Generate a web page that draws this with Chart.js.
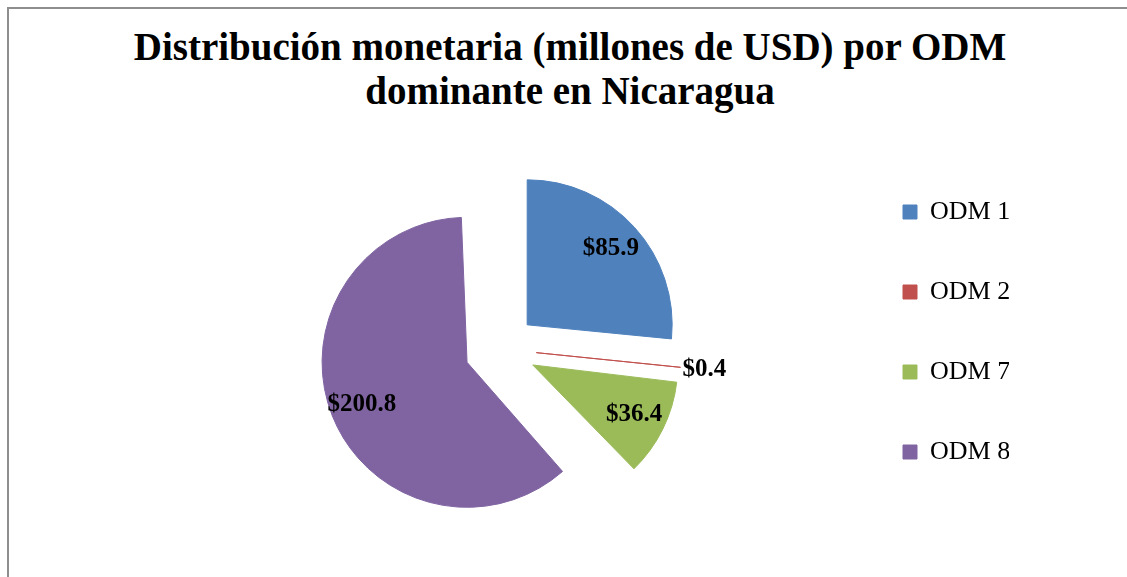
<!DOCTYPE html>
<html>
<head>
<meta charset="utf-8">
<script src="https://cdn.jsdelivr.net/npm/chart.js@4/dist/chart.umd.min.js"></script>
<style>
  html, body { margin: 0; padding: 0; width: 1127px; height: 577px; overflow: hidden; background: #fff; }
  .frame { position: absolute; left: 7px; top: 7px; width: 1200px; height: 700px;
           border-left: 2px solid #8e8e8e; border-top: 2px solid #8e8e8e; }
  .title { position: absolute; left: 0; top: 25px; width: 1140px; text-align: center;
           font-family: "Liberation Serif", serif; font-weight: bold; font-size: 39px; line-height: 44px; color: #000; }
  #chart { position: absolute; left: 0; top: 0; }
</style>
</head>
<body>
<div class="frame"></div>
<div class="title">Distribución monetaria (millones de USD) por ODM<br>dominante en Nicaragua</div>
<canvas id="chart" width="1127" height="577"></canvas>
<script>
const categories = ['ODM 1', 'ODM 2', 'ODM 7', 'ODM 8'];
const amounts = [85.9, 0.4, 36.4, 200.8];
const colors = ['#4F81BD', '#C0504D', '#9BBB59', '#8064A2'];

const total = amounts.reduce((a, b) => a + b, 0);
const RADIUS = 145;
const EXPLODE = 36; // px every slice is pulled out

// chart.js moves an arc by offset/4 but also grows its radius by offset/4 * (1 - sin(circ)),
// shrink the arcs back first so all slices keep the same radius
const keepRadius = {
  id: 'keepRadius',
  beforeDatasetsDraw(chart) {
    chart.getDatasetMeta(0).data.forEach(arc => {
      const circ = arc.endAngle - arc.startAngle;
      const fix = 1 - Math.sin(Math.min(Math.PI, circ));
      arc.outerRadius = RADIUS - EXPLODE * fix;
    });
  }
};

// draws the $ labels on each slice (outside for the tiny ones)
const sliceLabels = {
  id: 'sliceLabels',
  afterDatasetsDraw(chart) {
    const ctx = chart.ctx;
    const meta = chart.getDatasetMeta(0);
    ctx.save();
    ctx.font = 'bold 25px "Liberation Serif", serif';
    ctx.fillStyle = '#000';
    ctx.textAlign = 'center';
    ctx.textBaseline = 'middle';
    meta.data.forEach((arc, i) => {
      const mid = (arc.startAngle + arc.endAngle) / 2;
      const small = amounts[i] / total < 0.02;
      const dist = small ? EXPLODE + RADIUS + 24 : EXPLODE + RADIUS * 0.78;
      ctx.fillText('$' + amounts[i].toFixed(1), arc.x + Math.cos(mid) * dist, arc.y + Math.sin(mid) * dist);
    });
    ctx.restore();
  }
};

new Chart(document.getElementById('chart'), {
  type: 'pie',
  data: {
    labels: categories,
    datasets: [{
      data: amounts,
      backgroundColor: colors,
      borderColor: colors,
      borderWidth: 1,
      offset: EXPLODE * 4,
      radius: RADIUS
    }]
  },
  options: {
    responsive: false,
    animation: false,
    layout: { padding: { left: 152, right: 118, top: 145, bottom: 24 } },
    plugins: {
      tooltip: { enabled: false },
      legend: {
        position: 'right',
        align: 'start',
        maxWidth: 160,
        labels: {
          boxWidth: 14,
          boxHeight: 14,
          borderWidth: 0,
          padding: 54,
          color: '#000',
          font: { family: '"Liberation Serif", serif', size: 26 }
        }
      }
    }
  },
  plugins: [keepRadius, sliceLabels]
});
</script>
</body>
</html>
